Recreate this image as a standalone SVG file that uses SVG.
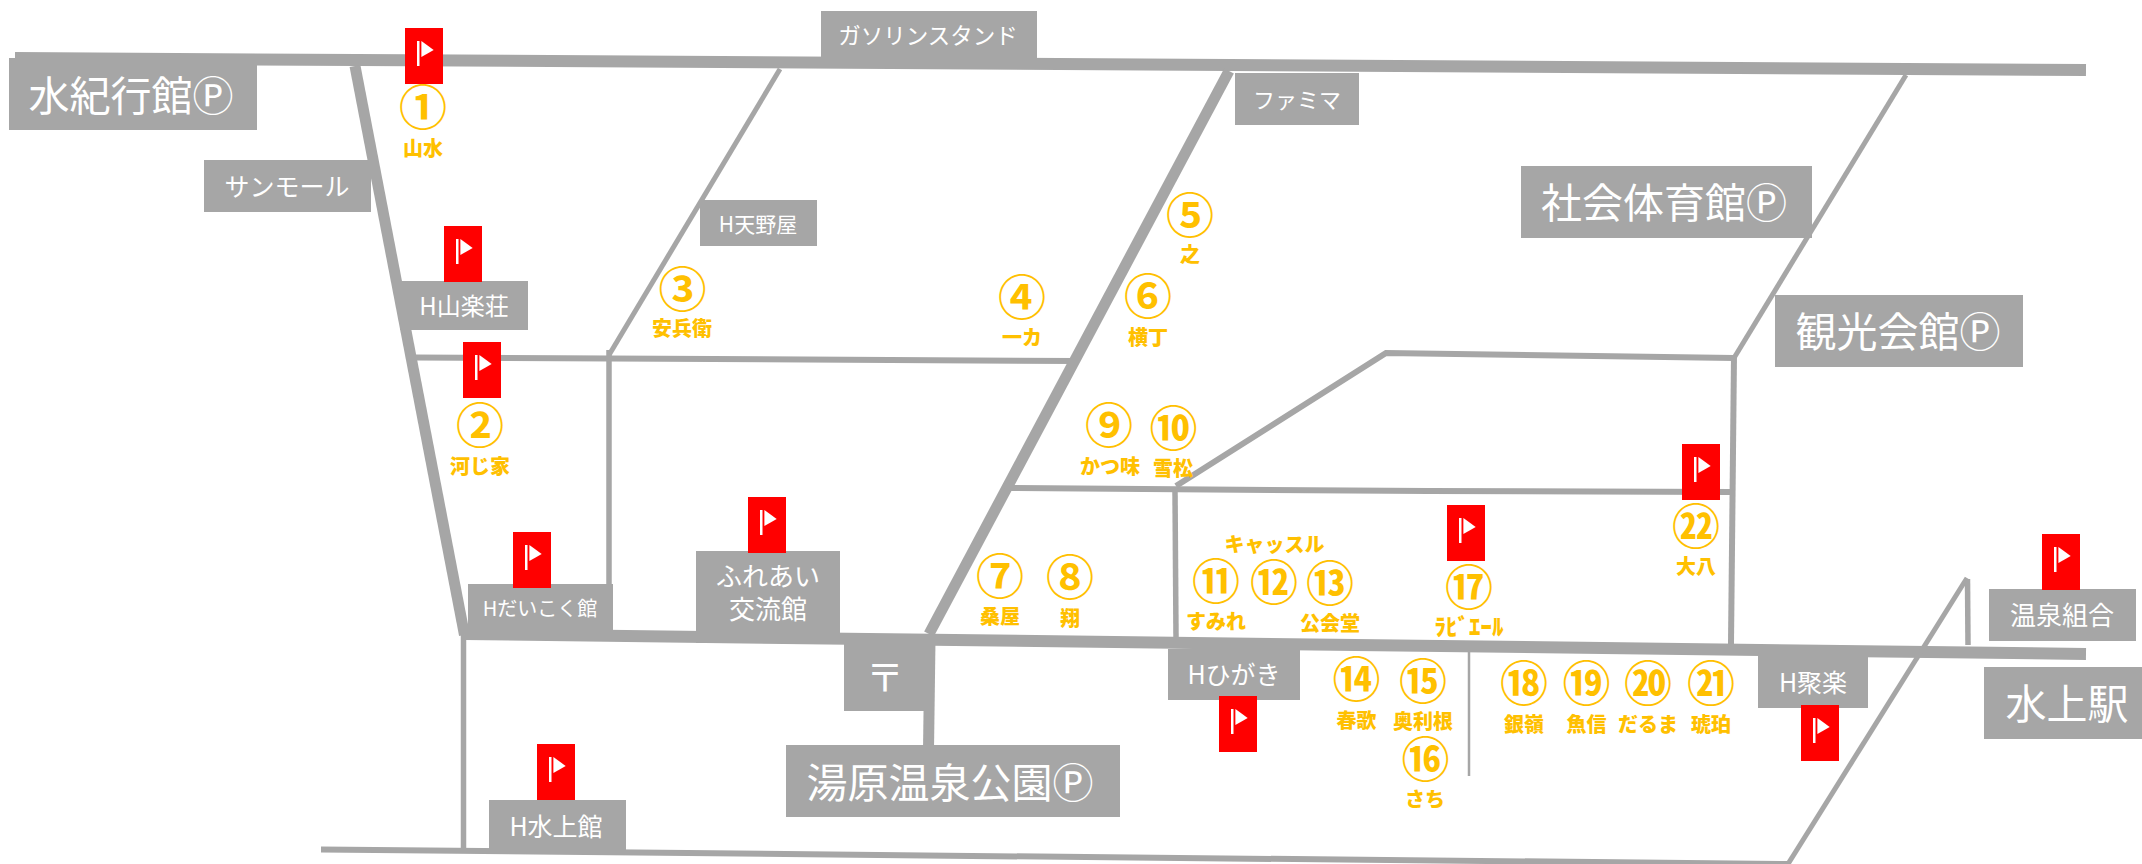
<svg xmlns="http://www.w3.org/2000/svg" width="2142" height="864" viewBox="0 0 2142 864">
<style>
.r{fill:none;stroke:#a6a6a6;stroke-width:6}
.b{fill:#a6a6a6}
.t{font-family:"Noto Sans CJK JP","Noto Sans",sans-serif;fill:#fff;text-anchor:middle;dominant-baseline:auto;font-size:24px}
.L{font-size:41px}
.n{font-family:"Noto Sans CJK JP","Noto Sans",sans-serif;fill:#ffc000;text-anchor:middle;font-size:48px;font-weight:700}
.l{font-family:"Noto Sans CJK JP","Noto Sans",sans-serif;fill:#ffc000;text-anchor:middle;font-size:20px;font-weight:900}
</style>
<defs>
<g id="flag"><rect width="38" height="56" fill="#f00"/><rect x="12" y="13" width="2.5" height="25" fill="#fff"/><path d="M16.4 13L28.7 22L16.4 29Z" fill="#fff"/></g>
</defs>
<rect width="2142" height="864" fill="#fff"/>
<g id="connectors">
<path class="r" style="stroke-width:12" d="M15 58L2086 70"/>
<path class="r" style="stroke-width:11" d="M355 66L464.5 635"/>
<path class="r" d="M415 357.5L1075 361"/>
<path class="r" style="stroke-width:5" d="M780 69L609 355"/>
<path class="r" style="stroke-width:5.5" d="M609 350V590"/>
<path class="r" style="stroke-width:11" d="M1229 71L929 634"/>
<path class="r" style="stroke-width:12" d="M465 634L2086 654"/>
<path class="r" style="stroke-width:11" d="M930 640L928.5 750"/>
<path class="r" d="M1005 488L1428 491L1731 492"/>
<path class="r" style="stroke-width:5.5" d="M1175 490L1176 637"/>
<path class="r" d="M1176 486L1386 353L1734 358"/>
<path class="r" style="stroke-width:5" d="M1906 75L1734 358"/>
<path class="r" d="M1734 355L1731 644"/>
<path class="r" d="M321 849.5L1790 864"/>
<path class="r" style="stroke-width:5.5" d="M463.5 635V849"/>
<path class="r" style="stroke-width:5" d="M1788 864L1967 578"/>
<path class="r" style="stroke-width:5.5" d="M1967.5 579L1968 645"/>
<path class="r" style="stroke-width:2.5" d="M1469 652V776"/>
</g>
<g id="n-mizuki"><rect class="b" x="9" y="58" width="248" height="72"/><text class="t L" x="131" y="111">水紀行館Ⓟ</text></g>
<g id="n-sunmall"><rect class="b" x="204" y="160" width="167" height="52"/><text class="t" x="287" y="196" style="font-size:25px">サンモール</text></g>
<g id="n-sanraku"><rect class="b" x="400" y="281" width="128" height="49"/><text class="t" x="464" y="315">H山楽荘</text></g>
<g id="n-amano"><rect class="b" x="700" y="200" width="117" height="46"/><text class="t" x="758" y="232" style="font-size:21px">H天野屋</text></g>
<g id="n-gas"><rect class="b" x="821" y="11" width="216" height="47"/><text class="t" x="928" y="44" style="font-size:22.5px">ガソリンスタンド</text></g>
<g id="n-famima"><rect class="b" x="1235" y="73" width="124" height="52"/><text class="t" x="1297" y="108" style="font-size:22px">ファミマ</text></g>
<g id="n-shakai"><rect class="b" x="1521" y="166" width="291" height="72"/><text class="t L" x="1664" y="218">社会体育館Ⓟ</text></g>
<g id="n-kanko"><rect class="b" x="1775" y="295" width="248" height="72"/><text class="t L" x="1898" y="347">観光会館Ⓟ</text></g>
<g id="n-daiku"><rect class="b" x="468" y="584" width="145" height="46"/><text class="t" x="540" y="616" style="font-size:20px">Hだいこく館</text></g>
<g id="n-fureai"><rect class="b" x="696" y="551" width="144" height="92"/><text class="t" x="768" y="586" style="font-size:26px">ふれあい</text><text class="t" x="768" y="619" style="font-size:26px">交流館</text></g>
<g id="n-post"><rect class="b" x="844" y="634" width="81" height="77"/><text class="t" x="885" y="691" style="font-size:38px">〒</text></g>
<g id="n-yubara"><rect class="b" x="786" y="745" width="334" height="72"/><text class="t L" x="950" y="798">湯原温泉公園Ⓟ</text></g>
<g id="n-higaki"><rect class="b" x="1168" y="649" width="132" height="51"/><text class="t" x="1234" y="684" style="font-size:25px">Hひがき</text></g>
<g id="n-minakami"><rect class="b" x="489" y="800" width="137" height="52"/><text class="t" x="556" y="836" style="font-size:25px">H水上館</text></g>
<g id="n-juraku"><rect class="b" x="1758" y="656" width="110" height="52"/><text class="t" x="1813" y="692" style="font-size:25px">H聚楽</text></g>
<g id="n-kumiai"><rect class="b" x="1989" y="589" width="147" height="52"/><text class="t" x="2062" y="625" style="font-size:26px">温泉組合</text></g>
<g id="n-station"><rect class="b" x="1984" y="667" width="158" height="72"/><text class="t L" x="2067" y="719">水上駅</text></g>
<g id="flags">
<use href="#flag" x="405" y="28"/><use href="#flag" x="444" y="226"/><use href="#flag" x="463" y="342"/><use href="#flag" x="513" y="532"/><use href="#flag" x="748" y="497"/><use href="#flag" x="537" y="744"/><use href="#flag" x="1219" y="696"/><use href="#flag" x="1447" y="505"/><use href="#flag" x="1682" y="444"/><use href="#flag" x="2042" y="534"/><use href="#flag" x="1801" y="705"/>
</g>
<g id="shops">
<text class="n" x="423" y="125">①</text><text class="l" x="423" y="156">山水</text>
<text class="n" x="480" y="443">②</text><text class="l" x="480" y="474">河じ家</text>
<text class="n" x="682.5" y="307">③</text><text class="l" x="682" y="336">安兵衛</text>
<text class="n" x="1022" y="315">④</text><text class="l" x="1022" y="345">一カ</text>
<text class="n" x="1190" y="233">⑤</text><text class="l" x="1190" y="262">之</text>
<text class="n" x="1148" y="314">⑥</text><text class="l" x="1148" y="345">横丁</text>
<text class="n" x="1000" y="594">⑦</text><text class="l" x="1000" y="624">桑屋</text>
<text class="n" x="1070" y="595">⑧</text><text class="l" x="1070" y="626">翔</text>
<text class="n" x="1109" y="443">⑨</text><text class="l" x="1110" y="474">かつ味</text>
<text class="n" x="1173.5" y="446">⑩</text><text class="l" x="1173" y="476">雪松</text>
<text class="l" x="1274.5" y="552">キャッスル</text>
<text class="n" x="1216" y="599">⑪</text><text class="l" x="1216" y="629">すみれ</text>
<text class="n" x="1274" y="600">⑫</text>
<text class="n" x="1330" y="601">⑬</text><text class="l" x="1330" y="631">公会堂</text>
<text class="n" x="1356.5" y="697">⑭</text><text class="l" x="1356.5" y="728">春歌</text>
<text class="n" x="1423" y="699">⑮</text><text class="l" x="1423" y="729">奥利根</text>
<text class="n" x="1425.5" y="777">⑯</text><text class="l" x="1425" y="807">さち</text>
<text class="n" x="1469" y="605">⑰</text><text class="l" x="1469" y="635" style="font-size:23px">ﾗﾋﾞｴｰﾙ</text>
<text class="n" x="1524" y="701">⑱</text><text class="l" x="1524" y="732">銀嶺</text>
<text class="n" x="1586.5" y="701">⑲</text><text class="l" x="1586.5" y="732">魚信</text>
<text class="n" x="1648" y="701">⑳</text><text class="l" x="1648" y="732">だるま</text>
<text class="n" x="1711" y="701">㉑</text><text class="l" x="1711" y="732">琥珀</text>
<text class="n" x="1696" y="544">㉒</text><text class="l" x="1696" y="574">大八</text>
</g>
</svg>
